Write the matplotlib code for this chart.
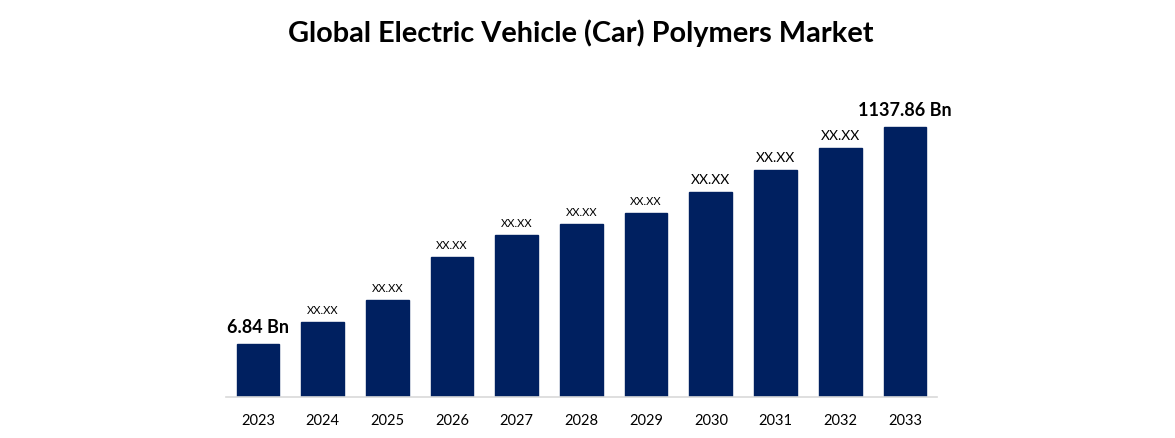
import matplotlib
matplotlib.use("Agg")
import matplotlib.pyplot as plt

years = ["2023", "2024", "2025", "2026", "2027", "2028", "2029", "2030", "2031", "2032", "2033"]
values = [53, 75, 97, 140, 162, 173, 184, 205, 227, 249, 270]
labels = ["6.84 Bn", "XX.XX", "XX.XX", "XX.XX", "XX.XX", "XX.XX", "XX.XX", "XX.XX", "XX.XX", "XX.XX", "1137.86 Bn"]
label_sizes = [13, 8, 8, 8, 8, 8, 8, 10, 10, 10, 13]
label_bold = [True, False, False, False, False, False, False, False, False, False, True]

plt.rcParams['font.family'] = ['Lato', 'DejaVu Sans']

fig = plt.figure(figsize=(11.75, 4.38), dpi=100)
ax = fig.add_axes([0.192, 0.0936, 0.6057, 0.678])
x = list(range(len(years)))
ax.bar(x, values, width=0.66, color="#002060", edgecolor="#002060")
ax.set_xlim(-0.5, len(years) - 0.5)
ax.set_ylim(0, 297)
for i, (v, lab, s, b) in enumerate(zip(values, labels, label_sizes, label_bold)):
    off = 8 if b else 6
    ax.text(i, v + off, lab, ha="center", va="bottom", fontsize=s,
            fontweight="bold" if b else "normal", color="black")
ax.set_xticks(x)
ax.set_xticklabels(years, fontsize=10.5)
ax.tick_params(axis="x", length=0, pad=12)
ax.set_yticks([])
for sp in ["top", "right", "left"]:
    ax.spines[sp].set_visible(False)
ax.spines["bottom"].set_color("#d9d9d9")
ax.spines["bottom"].set_linewidth(1.2)
fig.text(0.4945, 0.925, "Global Electric Vehicle (Car) Polymers Market", ha="center", va="center",
         fontsize=20.8, fontweight="bold")
fig.savefig("out.png", dpi=100)
